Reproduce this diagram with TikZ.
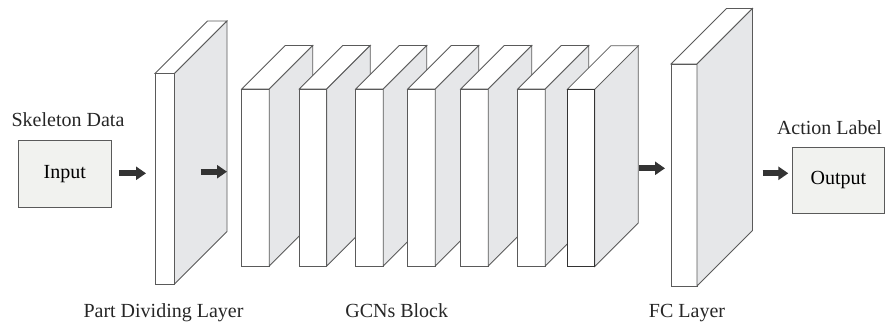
\documentclass[tikz,border=0pt]{standalone}
\usepackage{fontspec}
\setmainfont{Liberation Serif}
\usetikzlibrary{arrows.meta}

\definecolor{edge}{HTML}{5A5A5A}
\definecolor{sideface}{HTML}{E6E7E9}
\definecolor{boxfill}{HTML}{F1F2EF}
\definecolor{arrowdark}{HTML}{333333}

\tikzset{
  facestyle/.style={draw=edge, line width=0.8pt, line join=miter},
  frontface/.style={facestyle, fill=white, inner sep=0pt, outer sep=0pt},
  databox/.style={draw=edge, fill=boxfill, line width=0.9pt, inner sep=0pt, outer sep=0pt,
    font=\fontsize{20}{24}\selectfont},
  captext/.style={font=\fontsize{20}{24}\selectfont, text=black!85, anchor=base, inner sep=0pt},
  flow/.style={draw=arrowdark, line width=6pt, -{Triangle[length=10pt,width=13pt]}},
}

% A slab: name, left x, right x, top y, bottom y, depth of the receding faces
\newcommand\slab[6]{%
  \pgfmathsetmacro\slabw{#3-#2}%
  \pgfmathsetmacro\slabh{#5-#4}%
  \node[frontface, minimum width=\slabw pt, minimum height=\slabh pt, anchor=north west] (#1) at (#2,#4) {};
  \draw[facestyle, fill=white] (#1.north west) -- ++(#6,-#6) -- ++(\slabw,0) -- (#1.north east) -- cycle;
  \draw[facestyle, fill=sideface] (#1.north east) -- ++(#6,-#6) -- ++(0,\slabh) -- (#1.south east) -- cycle;
}

\begin{document}
\begin{tikzpicture}[x=1pt, y=-1pt]
  \useasboundingbox (0,0) rectangle (885,328);

  % input and output boxes
  \node[databox, minimum width=93pt, minimum height=67pt] (input) at (64.7,174) {Input};
  \node[captext] (skel) at (68,127) {Skeleton Data};

  \node[databox, minimum width=92pt, minimum height=66pt] (output) at (838.4,180) {Output};
  \node[captext] (act) at (829.5,135) {Action Label};

  % part dividing layer
  \slab{part}{155}{174.5}{73.5}{284}{52.5}

  % GCNs block
  \slab{g1}{241.7}{269.2}{89}{266}{43.5}
  \slab{g2}{299.3}{326.8}{89}{266}{43.5}
  \slab{g3}{355.7}{383.2}{89}{266}{43.5}
  \slab{g4}{407.7}{435.2}{89}{266}{43.5}
  \slab{g5}{460.7}{488.2}{89}{266}{43.5}
  \slab{g6}{517.7}{545.2}{89}{266}{43.5}
  \slab{g7}{567.3}{594.8}{89.3}{266.5}{43.5}
  \draw[black!80, line width=0.9pt] (g7.north west) rectangle (g7.south east);

  % fully connected layer
  \slab{fc}{671}{697}{64}{286}{55.5}

  % flow arrows
  \coordinate (a1s) at (119,173.3);   \coordinate (a1e) at (146,173.3);
  \coordinate (a2s) at (200.5,171.7); \coordinate (a2e) at (227,171.7);
  \coordinate (a3s) at (639,168.3);   \coordinate (a3e) at (665,168.3);
  \coordinate (a4s) at (762.7,173.3); \coordinate (a4e) at (788.3,173.3);
  \draw[flow] (a1s) -- (a1e);
  \draw[flow] (a2s) -- (a2e);
  \draw[flow] (a3s) -- (a3e);
  \draw[flow] (a4s) -- (a4e);

  % captions
  \node[captext] (cpart) at (163.5,317.5) {Part Dividing Layer};
  \node[captext] (cgcn) at (396.7,317.5) {GCNs Block};
  \node[captext] (cfc) at (687,317.5) {FC Layer};
\end{tikzpicture}
\end{document}
